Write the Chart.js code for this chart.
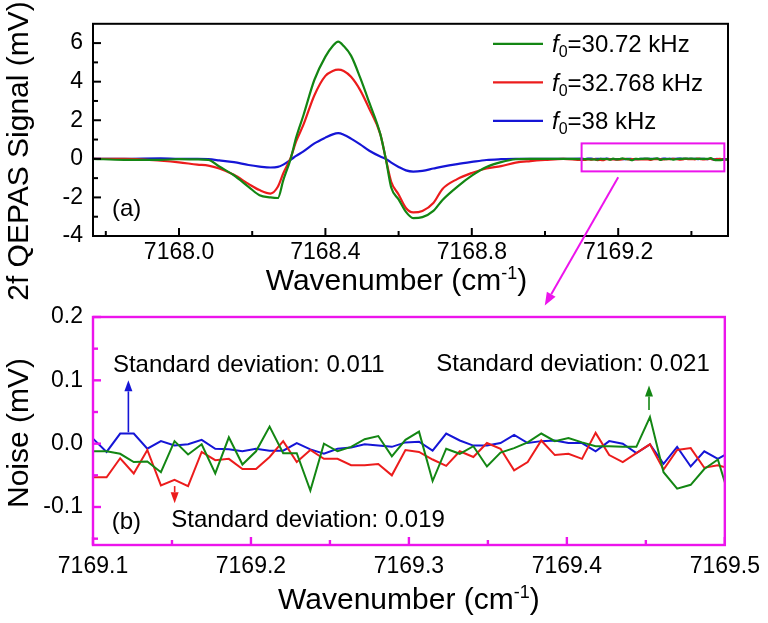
<!DOCTYPE html>
<html>
<head>
<meta charset="utf-8">
<script src="https://cdn.jsdelivr.net/npm/chart.js@4.4.0/dist/chart.umd.min.js"></script>
<style>
  html, body { margin: 0; padding: 0; background: #fff; }
  #marco { position: relative; width: 768px; height: 623px; }
  #marco canvas { position: absolute; left: 0; top: 0; }
</style>
</head>
<body>
<div id="marco">
  <canvas id="chartEspectro" width="768" height="623"></canvas>
  <canvas id="chartRuido" width="768" height="623"></canvas>
</div>
<script>
const FUENTE = '"Liberation Sans", Arial, sans-serif';

// (a) señal 2f QEPAS, número de onda en cm-1
const ondaA = [7167.765, 7167.85, 7167.95, 7168.0, 7168.05, 7168.08, 7168.11, 7168.15, 7168.19, 7168.22,
    7168.25, 7168.27, 7168.285, 7168.305, 7168.32, 7168.34, 7168.37, 7168.40, 7168.42, 7168.435,
    7168.45, 7168.47, 7168.495, 7168.52, 7168.55, 7168.565, 7168.58, 7168.60, 7168.62, 7168.64,
    7168.665, 7168.695, 7168.72, 7168.76, 7168.80, 7168.84, 7168.88, 7168.92, 7168.96, 7169.0, 7169.05];
const verdeA = [0.0, -0.05, -0.05, -0.02, -0.03, -0.05, -0.4, -0.85, -1.45, -1.89,
    -2.0, -2.03, -1.1, 0.0, 1.1, 2.26, 4.1, 5.3, 5.85, 6.08,
    5.85, 5.35, 4.21, 2.91, 1.28, 0.0, -1.5, -2.1, -2.75, -3.07,
    -3.02, -2.7, -2.13, -1.45, -0.87, -0.42, -0.17, -0.02, 0.0, 0.0, 0.0];
const rojoA = [0.0, 0.0, -0.1, -0.18, -0.3, -0.35, -0.5, -0.83, -1.3, -1.62,
    -1.8, -1.45, -0.75, 0.05, 0.9, 1.77, 3.3, 4.3, 4.55, 4.62,
    4.55, 4.25, 3.56, 2.59, 1.28, 0.0, -1.2, -1.85, -2.55, -2.78,
    -2.7, -2.29, -1.56, -1.05, -0.73, -0.5, -0.38, -0.2, -0.12, -0.06, 0.0];
const azulA = [0.0, 0.0, 0.02, 0.0, 0.0, -0.02, -0.08, -0.17, -0.32, -0.4,
    -0.45, -0.42, -0.3, -0.05, 0.15, 0.39, 0.8, 1.1, 1.27, 1.33,
    1.25, 1.05, 0.75, 0.42, 0.12, 0.0, -0.2, -0.42, -0.6, -0.66,
    -0.62, -0.5, -0.4, -0.27, -0.16, -0.06, -0.02, 0.0, 0.0, 0.0, 0.0];

// (b) ruido, malla desde 7169.1 cm-1
const inicioB = 7169.1;
const pasoB = 0.0086;
const ruidoVerde = [-0.012, -0.012, -0.016, -0.029, -0.028, -0.045, 0.004, -0.017, -0.001, -0.047,
    0.010, -0.033, -0.012, 0.027, -0.015, -0.015, -0.074, 0.000, -0.012, -0.005,
    0.007, 0.012, -0.020, 0.006, 0.019, -0.059, -0.008, -0.016, -0.004, -0.036,
    -0.014, -0.007, 0.002, 0.016, 0.004, 0.009, 0.002, -0.004, -0.004, -0.005,
    -0.005, 0.042, -0.045, -0.071, -0.065, -0.040, -0.025, -0.095];
const ruidoRojo = [-0.053, -0.053, -0.023, -0.047, -0.010, -0.066, -0.057, -0.067, -0.013, -0.026,
    -0.024, -0.040, -0.040, -0.021, 0.004, -0.029, -0.010, -0.024, -0.024, -0.034,
    -0.034, -0.032, -0.050, -0.010, -0.013, -0.025, -0.035, -0.012, -0.021, 0.001,
    -0.008, -0.042, -0.029, 0.005, -0.018, -0.016, -0.024, 0.017, -0.018, -0.029,
    -0.015, -0.001, -0.041, -0.010, -0.007, -0.038, -0.034, -0.040];
const ruidoAzul = [0.008, -0.013, 0.016, 0.016, -0.008, 0.004, -0.003, -0.001, 0.006, -0.008,
    -0.009, -0.012, -0.008, -0.011, -0.011, 0.001, -0.009, -0.016, -0.008, -0.006,
    -0.001, -0.003, -0.005, 0.002, 0.003, -0.011, 0.016, 0.005, -0.003, -0.003,
    0.001, 0.014, 0.001, 0.004, 0.005, 0.001, 0.001, -0.012, 0.004, 0.000,
    -0.015, -0.001, -0.032, -0.005, -0.036, -0.012, -0.024, -0.012];

const frecuencias = ['30.72', '32.768', '38'];
const desviaciones = ['0.021', '0.019', '0.011'];
const colores = ['#138613', '#ec1c1c', '#1515d6'];
const MAGENTA = '#ec14ec';

// marcas de los ejes
const ticksXA = [7168.0, 7168.4, 7168.8, 7169.2];
const menoresXA = [7167.8, 7168.2, 7168.6, 7169.0, 7169.4];
const ticksYA = [-4, -2, 0, 2, 4, 6];
const menoresYA = [-3, -1, 1, 3, 5];
const ticksXB = [7169.1, 7169.2, 7169.3, 7169.4, 7169.5];
const menoresXB = [7169.15, 7169.25, 7169.35, 7169.45];
const ticksYB = [-0.1, 0.0, 0.1, 0.2];
const menoresYB = [-0.15, -0.05, 0.05, 0.15];

const ondaB = ruidoAzul.map((_, i) => inicioB + i * pasoB);
const puntosB = (vals) => vals.map((y, i) => ({ x: ondaB[i], y }));
const puntosA = (vals, ruido) => ondaA.map((x, i) => ({ x, y: vals[i] })).concat(puntosB(ruido));

// Flecha con punta rellena
const flecha = (ctx, x1, y1, x2, y2, color, ancho, largo, medio) => {
    const ang = Math.atan2(y2 - y1, x2 - x1);
    const bx = x2 - largo * Math.cos(ang), by = y2 - largo * Math.sin(ang);
    ctx.save();
    ctx.strokeStyle = color; ctx.fillStyle = color; ctx.lineWidth = ancho;
    ctx.beginPath(); ctx.moveTo(x1, y1); ctx.lineTo(bx, by); ctx.stroke();
    ctx.beginPath();
    ctx.moveTo(x2, y2);
    ctx.lineTo(bx + medio * Math.sin(ang), by - medio * Math.cos(ang));
    ctx.lineTo(bx - medio * Math.sin(ang), by + medio * Math.cos(ang));
    ctx.closePath(); ctx.fill();
    ctx.restore();
};

// Título de eje X con superíndice
const tituloX = (ctx, cx, base) => {
    ctx.save();
    ctx.fillStyle = '#000';
    ctx.textBaseline = 'alphabetic';
    ctx.textAlign = 'left';
    const grande = `30px ${FUENTE}`, chico = `18px ${FUENTE}`;
    ctx.font = grande;
    const w1 = ctx.measureText('Wavenumber (cm').width, w3 = ctx.measureText(')').width;
    ctx.font = chico;
    const w2 = ctx.measureText('-1').width;
    let x = cx - (w1 + w2 + w3) / 2;
    ctx.font = grande; ctx.fillText('Wavenumber (cm', x, base); x += w1;
    ctx.font = chico; ctx.fillText('-1', x, base - 11); x += w2;
    ctx.font = grande; ctx.fillText(')', x, base);
    ctx.restore();
};

const tituloY = (ctx, texto, cx, cy) => {
    ctx.save();
    ctx.translate(cx, cy);
    ctx.rotate(-Math.PI / 2);
    ctx.font = `30px ${FUENTE}`;
    ctx.fillStyle = '#000';
    ctx.textAlign = 'center';
    ctx.textBaseline = 'middle';
    ctx.fillText(texto, 0, 0);
    ctx.restore();
};

// Recuadro y marcas hacia dentro
const marcoPlugin = {
    id: 'marco',
    afterDatasetsDraw(chart, args, o) {
        const { ctx, chartArea: a } = chart;
        const { x, y } = chart.scales;
        ctx.save();
        ctx.strokeStyle = o.color;
        ctx.lineWidth = o.ancho;
        ctx.lineCap = 'butt';
        const marcas = (vals, largo, eje) => {
            vals.forEach(v => {
                ctx.beginPath();
                if (eje === 'x') {
                    const p = x.getPixelForValue(v);
                    ctx.moveTo(p, a.bottom); ctx.lineTo(p, a.bottom - largo);
                } else {
                    const p = y.getPixelForValue(v);
                    ctx.moveTo(a.left, p); ctx.lineTo(a.left + largo, p);
                }
                ctx.stroke();
            });
        };
        marcas(o.xMayores, 8, 'x');
        marcas(o.xMenores, 5, 'x');
        marcas(o.yMayores, 8, 'y');
        marcas(o.yMenores, 5, 'y');
        ctx.strokeRect(a.left, a.top, a.right - a.left, a.bottom - a.top);
        ctx.restore();
    }
};

// Leyenda, recuadro magenta y textos de (a)
const extrasA = {
    id: 'extrasA',
    afterDraw(chart) {
        const { ctx, chartArea: a, scales: { x, y } } = chart;
        ctx.save();
        ctx.strokeStyle = MAGENTA;
        ctx.lineWidth = 2;
        const x1 = x.getPixelForValue(7169.1), x2 = x.getPixelForValue(7169.49);
        const y1 = y.getPixelForValue(0.8), y2 = y.getPixelForValue(-0.65);
        ctx.strokeRect(x1, y1, x2 - x1, y2 - y1);

        frecuencias.forEach((f, i) => {
            const fy = a.top + 20 + i * 38.5;
            ctx.strokeStyle = colores[i];
            ctx.lineWidth = 2.2;
            ctx.beginPath(); ctx.moveTo(a.right - 235, fy); ctx.lineTo(a.right - 185, fy); ctx.stroke();
            let tx = a.right - 176;
            const base = fy + 8.6;
            ctx.fillStyle = '#000';
            ctx.textBaseline = 'alphabetic';
            ctx.font = `italic 24px ${FUENTE}`;
            ctx.fillText('f', tx, base); tx += ctx.measureText('f').width;
            ctx.font = `16px ${FUENTE}`;
            ctx.fillText('0', tx, base + 5); tx += ctx.measureText('0').width;
            ctx.font = `24px ${FUENTE}`;
            ctx.fillText(`=${f} kHz`, tx, base);
        });

        ctx.font = `24px ${FUENTE}`;
        ctx.fillStyle = '#000';
        ctx.fillText('(a)', a.left + 19, a.bottom - 20);
        ctx.restore();

        tituloX(ctx, (a.left + a.right) / 2 - 14, a.bottom + 54);
        tituloY(ctx, '2f QEPAS Signal (mV)', 20, 151);
    }
};

const serie = (etiqueta, puntos, color, suave) => ({
    label: etiqueta,
    data: puntos,
    borderColor: color,
    borderWidth: suave ? 2.2 : 2,
    pointRadius: 0,
    fill: false,
    cubicInterpolationMode: suave ? 'monotone' : 'default',
    tension: 0
});

const escalas = (xmin, xmax, ymin, ymax, tx, ty, padX, fmtY) => ({
    x: {
        type: 'linear', min: xmin, max: xmax,
        grid: { display: false, drawTicks: false }, border: { display: false },
        afterBuildTicks: s => { s.ticks = tx.map(v => ({ value: v })); },
        afterFit: s => { s.height = 40; },
        ticks: { padding: padX, color: '#000', font: { family: FUENTE, size: 23 }, autoSkip: false, maxRotation: 0,
            callback: v => Number(v).toFixed(1) }
    },
    y: {
        type: 'linear', min: ymin, max: ymax,
        grid: { display: false, drawTicks: false }, border: { display: false },
        afterBuildTicks: s => { s.ticks = ty.map(v => ({ value: v })); },
        afterFit: s => { s.width = 93; },
        ticks: { padding: 10, color: '#000', font: { family: FUENTE, size: 23 }, autoSkip: false, callback: fmtY }
    }
});

const graficoA = new Chart(document.getElementById('chartEspectro'), {
    type: 'line',
    data: {
        datasets: [
            serie(`f0=${frecuencias[0]} kHz`, puntosA(verdeA, ruidoVerde), colores[0], true),
            serie(`f0=${frecuencias[1]} kHz`, puntosA(rojoA, ruidoRojo), colores[1], true),
            serie(`f0=${frecuencias[2]} kHz`, puntosA(azulA, ruidoAzul), colores[2], true)
        ]
    },
    options: {
        responsive: false, animation: false, events: [],
        layout: { padding: { left: 0, right: 40, top: 8, bottom: 347 }, autoPadding: false },
        plugins: {
            legend: { display: false }, tooltip: { enabled: false },
            marco: { color: '#000', ancho: 2, xMayores: ticksXA, xMenores: menoresXA, yMayores: ticksYA, yMenores: menoresYA }
        },
        scales: escalas(7167.765, 7169.5, -4, 7, ticksXA, ticksYA, 3, v => String(v))
    },
    plugins: [marcoPlugin, extrasA]
});

// Notas y flechas de (b)
const extrasB = {
    id: 'extrasB',
    afterDraw(chart) {
        const { ctx, chartArea: a, scales: { x, y } } = chart;
        const notas = [
            { texto: `Standard deviation: ${desviaciones[2]}`, x: 7169.1126, y: 0.127 },
            { texto: `Standard deviation: ${desviaciones[0]}`, x: 7169.3173, y: 0.129 },
            { texto: `Standard deviation: ${desviaciones[1]}`, x: 7169.1496, y: -0.1185 },
            { texto: '(b)', x: 7169.1118, y: -0.121 }
        ];
        ctx.save();
        ctx.font = `24px ${FUENTE}`;
        ctx.fillStyle = '#000';
        ctx.textBaseline = 'alphabetic';
        notas.forEach(n => ctx.fillText(n.texto, x.getPixelForValue(n.x), y.getPixelForValue(n.y) + 8.6));
        ctx.restore();

        const vertical = (xv, y1, y2, color) => flecha(ctx, x.getPixelForValue(xv), y.getPixelForValue(y1),
            x.getPixelForValue(xv), y.getPixelForValue(y2), color, 1.6, 11, 4);
        vertical(7169.1224, 0.018, 0.1, colores[2]);
        vertical(7169.452, 0.053, 0.092, colores[0]);
        vertical(7169.1517, -0.067, -0.094, colores[1]);

        tituloX(ctx, (a.left + a.right) / 2, a.bottom + 64);
        tituloY(ctx, 'Noise (mV)', 20, 433);

        const sa = graficoA.scales;
        flecha(ctx, sa.x.getPixelForValue(7169.2), sa.y.getPixelForValue(-0.96),
            x.getPixelForValue(7169.386), y.getPixelForValue(0.218), MAGENTA, 2, 13, 5);
    }
};

new Chart(document.getElementById('chartRuido'), {
    type: 'line',
    data: {
        datasets: [
            serie('30.72 kHz', puntosB(ruidoVerde), colores[0], false),
            serie('32.768 kHz', puntosB(ruidoRojo), colores[1], false),
            serie('38 kHz', puntosB(ruidoAzul), colores[2], false)
        ]
    },
    options: {
        responsive: false, animation: false, events: [],
        layout: { padding: { left: 0, right: 40, top: 317, bottom: 38 }, autoPadding: false },
        plugins: {
            legend: { display: false }, tooltip: { enabled: false },
            marco: { color: MAGENTA, ancho: 2.4, xMayores: ticksXB, xMenores: menoresXB, yMayores: ticksYB, yMenores: menoresYB }
        },
        scales: escalas(7169.1, 7169.5, -0.16, 0.2, ticksXB, ticksYB, 8, v => Number(v).toFixed(1))
    },
    plugins: [marcoPlugin, extrasB]
});
</script>
</body>
</html>
